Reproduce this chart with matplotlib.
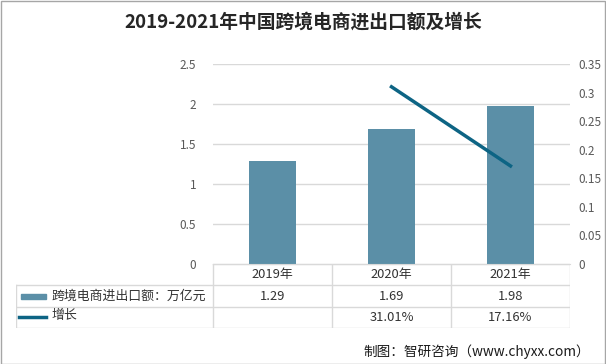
import matplotlib.pyplot as plt
import numpy as np
from matplotlib.patches import Rectangle

plt.rcParams['font.family'] = ['Noto Sans CJK SC', 'DejaVu Sans']

years = ['2019年', '2020年', '2021年']
trade = [1.29, 1.69, 1.98]
growth = [np.nan, 0.3101, 0.1716]
growth_labels = ['', '31.01%', '17.16%']
bar_name = '跨境电商进出口额：万亿元'
line_name = '增长'

bar_color = '#5b8fa7'
line_color = '#0d6484'
grid_color = '#d9d9d9'
tick_color = '#595959'

W, H = 606, 364
fig = plt.figure(figsize=(W / 100, H / 100), dpi=100)

def box(x0, y0, x1, y1):
    return [x0 / W, 1 - y1 / H, (x1 - x0) / W, (y1 - y0) / H]

ax = fig.add_axes(box(213, 64, 570, 264))
x = np.arange(len(years))
ax.bar(x, trade, width=0.4, color=bar_color, zorder=2)
ax.set_xlim(-0.5, 2.5)
ax.set_ylim(0, 2.5)
ax.set_yticks([0, 0.5, 1, 1.5, 2, 2.5])
ax.set_yticklabels(['0', '0.5', '1', '1.5', '2', '2.5'])
ax.grid(axis='y', color=grid_color, linewidth=1, zorder=0)
ax.set_xticks([])
for s in ['top', 'right', 'left']:
    ax.spines[s].set_visible(False)
ax.spines['bottom'].set_color(grid_color)
ax.tick_params(axis='y', length=0, pad=12, labelsize=8.5, labelcolor=tick_color)

ax2 = ax.twinx()
ax2.plot(x, growth, color=line_color, linewidth=2.5, zorder=3)
ax2.set_ylim(0, 0.35)
ax2.set_yticks([0, 0.05, 0.1, 0.15, 0.2, 0.25, 0.3, 0.35])
ax2.set_yticklabels(['0', '0.05', '0.1', '0.15', '0.2', '0.25', '0.3', '0.35'])
for s in ax2.spines.values():
    s.set_visible(False)
ax2.tick_params(axis='y', length=0, pad=6, labelsize=8.5, labelcolor=tick_color)

# data table under the chart
left = -0.5 - 197 / 119
tb = fig.add_axes(box(16, 264, 570, 328))
tb.set_xlim(left, 2.5)
tb.set_ylim(0, 64)
tb.invert_yaxis()
tb.axis('off')
rows = [0, 21, 43, 64]
lc = dict(color=grid_color, linewidth=1)
tb.plot([-0.5, 2.5], [0, 0], **lc)
for yy in rows[1:]:
    tb.plot([left, 2.5], [yy, yy], **lc)
for xx in [-0.5, 0.5, 1.5, 2.5]:
    tb.plot([xx, xx], [0, 64], **lc)
tb.plot([left + 0.003, left + 0.003], [21, 64], **lc)

for i, yr in enumerate(years):
    tb.text(i, 10.5, yr, ha='center', va='center', fontsize=9.3, color='#333333')
    tb.text(i, 32, f'{trade[i]:.2f}', ha='center', va='center', fontsize=9.3, color='#333333')
    tb.text(i, 53.5, growth_labels[i], ha='center', va='center', fontsize=9.3, color='#333333')

px = 1 / 119
tb.add_patch(Rectangle((left + 5 * px, 29.5), 25 * px, 5, color=bar_color, clip_on=False))
tb.plot([left + 3 * px, left + 30 * px], [53, 53], color=line_color, linewidth=2.5)
tb.text(left + 35 * px, 32, bar_name, ha='left', va='center', fontsize=9.3, color='#333333')
tb.text(left + 36 * px, 51, line_name, ha='left', va='center', fontsize=9.3, color='#333333')

fig.text(303 / W, 1 - 22 / H, '2019-2021年中国跨境电商进出口额及增长', ha='center', va='center',
         fontsize=13.5, fontweight='bold', color='#262626')
fig.text(590 / W, 1 - 352 / H, '制图：智研咨询（www.chyxx.com）', ha='right', va='center',
         fontsize=9.8, color='#1a1a1a')

fig.add_artist(Rectangle((0.5 / W, 0.5 / H), 1 - 1.5 / W, 1 - 1.5 / H, transform=fig.transFigure,
                         fill=False, edgecolor='#a6a6a6', linewidth=1))

fig.savefig('out.png', dpi=100)
